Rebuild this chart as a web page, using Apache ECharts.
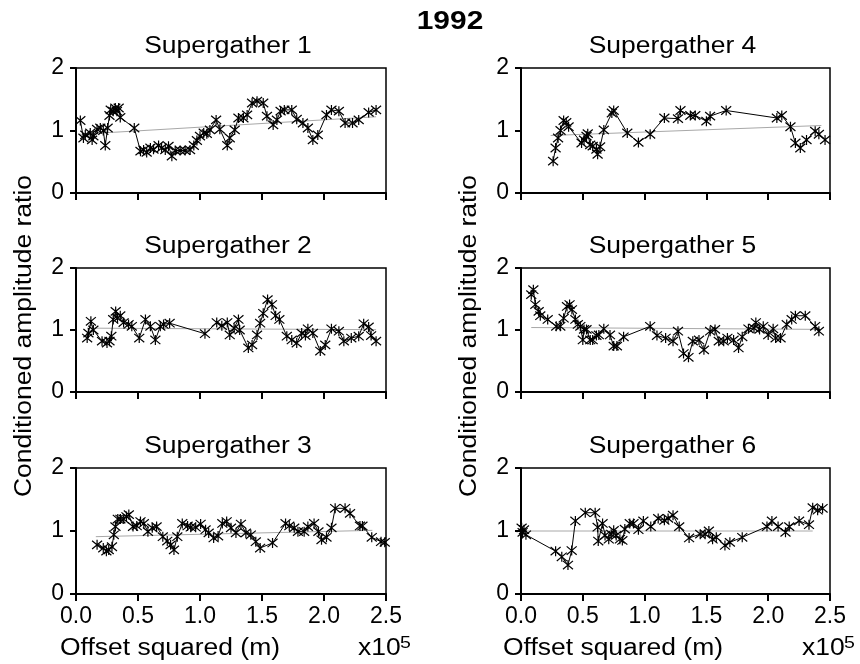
<!DOCTYPE html>
<html>
<head>
<meta charset="utf-8">
<script src="https://cdn.jsdelivr.net/npm/echarts@6/dist/echarts.min.js"></script>
<style>html,body{margin:0;padding:0;background:#fff}#c{width:860px;height:664px}</style>
</head>
<body>
<div id="c"></div>
<script>
// x values in units of 1e5 m^2
var sg1X = [0.035,0.06,0.075,0.115,0.13,0.14,0.17,0.196,0.22,0.236,0.255,0.27,0.28,0.30,0.317,0.33,0.344,0.357,0.47,0.52,0.545,0.57,0.60,0.625,0.666,0.69,0.72,0.746,0.773,0.80,0.84,0.88,0.92,0.95,0.975,1.0,1.03,1.055,1.08,1.13,1.16,1.22,1.24,1.28,1.31,1.35,1.38,1.42,1.46,1.51,1.54,1.59,1.62,1.65,1.68,1.74,1.78,1.83,1.87,1.91,1.95,2.02,2.06,2.12,2.17,2.23,2.28,2.36,2.42];
var sg1Y = [1.16,0.88,0.93,0.96,0.85,0.91,1.02,1.04,1.0,0.76,1.04,1.24,1.33,1.31,1.36,1.31,1.36,1.21,1.04,0.67,0.69,0.65,0.72,0.70,0.76,0.72,0.69,0.75,0.59,0.68,0.68,0.68,0.69,0.76,0.84,0.91,0.96,0.95,1.01,1.17,1.02,0.76,0.88,1.01,1.2,1.2,1.25,1.44,1.47,1.44,1.23,1.09,1.17,1.31,1.33,1.33,1.18,1.12,1.04,0.85,0.93,1.25,1.33,1.31,1.12,1.12,1.17,1.29,1.33];
var sg1Trend = [[0.035,0.94],[2.42,1.22]];

var sg2X = [0.09,0.10,0.12,0.14,0.21,0.25,0.27,0.285,0.30,0.32,0.335,0.357,0.384,0.424,0.45,0.51,0.56,0.60,0.64,0.68,0.706,0.755,1.04,1.135,1.176,1.22,1.24,1.275,1.31,1.32,1.39,1.42,1.46,1.485,1.51,1.545,1.58,1.61,1.64,1.70,1.74,1.78,1.82,1.85,1.87,1.91,1.97,2.01,2.06,2.12,2.16,2.22,2.28,2.32,2.36,2.38,2.42];
var sg2Y = [0.87,0.95,1.14,1.0,0.82,0.79,0.82,0.90,1.17,1.30,1.19,1.23,1.12,1.09,1.06,0.87,1.17,1.06,0.84,1.06,1.09,1.11,0.94,1.12,1.07,1.12,0.92,1.03,1.17,1.0,0.71,0.76,0.92,1.11,1.27,1.49,1.41,1.23,1.17,0.90,0.84,0.79,0.95,0.91,1.02,0.95,0.66,0.76,1.02,0.98,0.82,0.87,0.90,1.10,1.05,0.91,0.82];
var sg2Trend = [[0.09,1.03],[2.42,1.005]];

var sg3X = [0.17,0.22,0.245,0.264,0.29,0.305,0.318,0.337,0.358,0.385,0.407,0.426,0.46,0.49,0.52,0.547,0.58,0.615,0.65,0.70,0.736,0.763,0.79,0.817,0.857,0.90,0.925,0.965,1.005,1.045,1.07,1.11,1.146,1.18,1.215,1.25,1.29,1.33,1.37,1.41,1.45,1.485,1.585,1.69,1.72,1.76,1.79,1.84,1.87,1.92,1.955,1.98,2.02,2.06,2.09,2.17,2.21,2.29,2.31,2.385,2.46,2.49];
var sg3Y = [0.78,0.73,0.68,0.70,0.75,0.94,1.07,1.19,1.19,1.19,1.23,1.26,1.07,1.08,1.15,1.12,0.99,1.05,1.07,0.91,0.84,0.78,0.70,0.91,1.12,1.08,1.06,1.06,1.11,1.02,0.97,0.89,0.92,1.12,1.15,1.05,0.97,1.11,0.97,0.94,0.83,0.73,0.81,1.12,1.08,1.05,0.99,0.99,1.07,1.12,0.99,0.86,0.90,1.05,1.36,1.36,1.28,1.08,1.08,0.90,0.83,0.82];
var sg3Trend = [[0.16,0.91],[2.39,1.01]];

var sg4X = [0.26,0.28,0.30,0.32,0.345,0.366,0.385,0.49,0.51,0.53,0.54,0.56,0.58,0.61,0.62,0.64,0.67,0.735,0.75,0.86,0.95,1.045,1.16,1.27,1.29,1.37,1.41,1.50,1.53,1.66,2.07,2.11,2.18,2.22,2.26,2.31,2.38,2.41,2.46];
var sg4Y = [0.51,0.72,0.88,1.0,1.16,1.13,1.06,0.80,0.85,0.91,0.95,0.77,0.75,0.70,0.62,0.74,1.01,1.28,1.32,0.96,0.81,0.94,1.2,1.19,1.32,1.24,1.24,1.15,1.23,1.32,1.2,1.24,1.06,0.80,0.72,0.85,0.99,0.94,0.85];
var sg4Trend = [[0.24,0.92],[2.43,1.08]];

var sg5X = [0.083,0.10,0.116,0.143,0.156,0.216,0.285,0.318,0.345,0.372,0.393,0.412,0.44,0.46,0.48,0.50,0.51,0.53,0.56,0.58,0.61,0.63,0.67,0.72,0.75,0.776,0.83,1.045,1.10,1.17,1.23,1.27,1.315,1.355,1.39,1.44,1.48,1.53,1.57,1.60,1.64,1.67,1.72,1.76,1.79,1.84,1.885,1.90,1.93,1.96,2.0,2.04,2.06,2.10,2.15,2.19,2.22,2.30,2.38,2.41];
var sg5Y = [1.57,1.65,1.41,1.30,1.23,1.17,1.06,1.06,1.19,1.38,1.41,1.33,1.17,1.09,1.06,0.84,1.01,1.01,0.84,0.84,0.91,0.92,1.02,0.92,0.74,0.74,0.89,1.06,0.91,0.87,0.82,0.98,0.62,0.56,0.82,0.84,0.68,0.98,1.01,0.82,0.82,0.87,0.84,0.71,0.89,1.02,1.03,1.12,1.01,1.06,0.92,1.02,0.87,0.87,1.09,1.17,1.23,1.23,1.06,0.98];
var sg5Trend = [[0.083,1.04],[2.41,1.01]];

var sg6X = [0.005,0.013,0.024,0.04,0.28,0.33,0.38,0.41,0.44,0.52,0.60,0.62,0.625,0.66,0.68,0.71,0.73,0.75,0.77,0.80,0.82,0.84,0.88,0.91,0.95,0.99,1.05,1.11,1.16,1.19,1.23,1.28,1.36,1.45,1.49,1.52,1.55,1.58,1.65,1.69,1.79,1.99,2.03,2.08,2.14,2.17,2.25,2.33,2.36,2.40,2.44];
var sg6Y = [1.05,0.98,1.02,0.94,0.68,0.59,0.46,0.69,1.16,1.29,1.29,1.06,0.84,1.12,0.93,0.87,0.95,1.01,0.93,0.87,0.85,1.03,1.12,1.12,1.02,1.16,1.07,1.2,1.17,1.2,1.25,1.07,0.89,0.95,0.95,1.0,0.87,0.90,0.77,0.82,0.90,1.07,1.16,1.07,0.98,1.07,1.16,1.10,1.37,1.33,1.36];
var sg6Trend = [[0.005,1.0],[2.36,1.0]];

var panelTitles = ['Supergather 1','Supergather 2','Supergather 3','Supergather 4','Supergather 5','Supergather 6'];
var xTicks = [0, 0.5, 1.0, 1.5, 2.0, 2.5];
var yTicks = [0, 1, 2];

var panels = [
  {x: sg1X, y: sg1Y, t: sg1Trend},
  {x: sg2X, y: sg2Y, t: sg2Trend},
  {x: sg3X, y: sg3Y, t: sg3Trend},
  {x: sg4X, y: sg4Y, t: sg4Trend},
  {x: sg5X, y: sg5Y, t: sg5Trend},
  {x: sg6X, y: sg6Y, t: sg6Trend}
];

var FONT = 'Liberation Sans, Arial, Helvetica, sans-serif';
var FS = 23;
var SX = 1.15;
var colLeft = [76, 521];
var colWidth = [310, 309];
var rowTop = [68, 268, 468];
var rowHeight = [125, 124, 126];

var grids = [], xAxes = [], yAxes = [], series = [], graphics = [];
var star = 'path://M0,0L10,10M10,0L0,10M5,-1L5,11';

function txt(x, y, text, opt) {
  opt = opt || {};
  return {type: 'text', x: x, y: y, rotation: opt.rot || 0, scaleX: opt.sx || SX,
    style: {text: text, fontSize: opt.fs || FS, fontWeight: opt.fw || 'normal', fontFamily: FONT, fill: '#000',
      align: opt.align || 'center', verticalAlign: 'middle'}};
}

for (var i = 0; i < 6; i++) {
  var col = i < 3 ? 0 : 1, row = i % 3;
  grids.push({left: colLeft[col], top: rowTop[row], width: colWidth[col], height: rowHeight[row],
    show: true, borderColor: '#000', borderWidth: 1.5, backgroundColor: 'transparent'});
  xAxes.push({type: 'value', gridIndex: i, min: 0, max: 2.5, interval: 0.5,
    axisLine: {show: true, onZero: false, lineStyle: {color: '#000', width: 2}},
    axisTick: {show: true, length: 7, lineStyle: {color: '#000', width: 2}},
    axisLabel: {show: row === 2, margin: 11, color: '#000', fontSize: FS, fontFamily: FONT,
      formatter: function (v) { return v.toFixed(1); }},
    splitLine: {show: false}});
  yAxes.push({type: 'value', gridIndex: i, min: 0, max: 2, interval: 1,
    axisLine: {show: true, onZero: false, lineStyle: {color: '#000', width: 2}},
    axisTick: {show: true, length: 6, lineStyle: {color: '#000', width: 2}},
    axisLabel: {show: true, margin: 12, color: '#000', fontSize: FS, fontFamily: FONT},
    splitLine: {show: false}});
  var p = panels[i];
  var d = p.x.map(function (xv, k) { return [xv, p.y[k]]; });
  series.push({type: 'line', xAxisIndex: i, yAxisIndex: i, data: p.t, symbol: 'none',
    lineStyle: {color: '#a8a8a8', width: 1}, silent: true, z: 2});
  series.push({type: 'line', xAxisIndex: i, yAxisIndex: i, data: d,
    symbol: star, symbolSize: 10,
    itemStyle: {color: 'none', borderColor: '#000', borderWidth: 1.2},
    lineStyle: {color: '#000', width: 1}, silent: true, z: 3});
  graphics.push(txt(colLeft[col] + colWidth[col] / 2 - 3, rowTop[row] - 21, panelTitles[i]));
}

graphics.push(txt(450, 22, '1992', {fs: 26, fw: 'bold', sx: 1.15}));
graphics.push(txt(25, 336, 'Conditioned amplitude ratio', {rot: Math.PI / 2}));
graphics.push(txt(470, 336, 'Conditioned amplitude ratio', {rot: Math.PI / 2}));
[[170, 358], [613, 802]].forEach(function (pp) {
  graphics.push(txt(pp[0], 649, 'Offset squared (m)'));
  graphics.push(txt(pp[1], 649, 'x10', {align: 'left'}));
  graphics.push(txt(pp[1] + 42, 643, '5', {align: 'left', fs: 17}));
});

var chart = echarts.init(document.getElementById('c'), null, {renderer: 'canvas'});
chart.setOption({
  animation: false,
  backgroundColor: '#fff',
  grid: grids, xAxis: xAxes, yAxis: yAxes, series: series, graphic: graphics
});
</script>
</body>
</html>
